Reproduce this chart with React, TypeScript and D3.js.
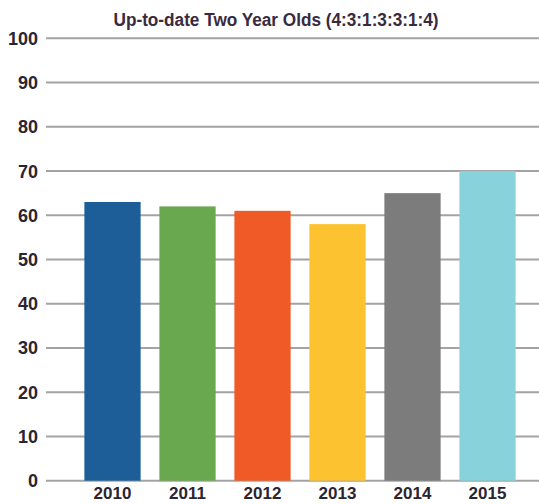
import { useEffect, useRef } from 'react';
import * as d3 from 'd3';

const years = ['2010', '2011', '2012', '2013', '2014', '2015'];
const values = [63, 62, 61, 58, 65, 70];
const colors = ['#1d5e99', '#69a84e', '#f05a27', '#fcc22f', '#7b7c7b', '#88d2dc'];
const yTicks = [0, 10, 20, 30, 40, 50, 60, 70, 80, 90, 100];
const title = 'Up-to-date Two Year Olds (4:3:1:3:3:1:4)';

export default function App() {
  const svgRef = useRef<SVGSVGElement>(null);

  useEffect(() => {
    const width = 539;
    const font = '"Liberation Sans", Arial, sans-serif';

    const svg = d3.select(svgRef.current);
    svg.selectAll('*').remove();

    const x = d3.scaleBand<string>()
      .domain(years)
      .range([75, 525])
      .paddingInner(0.25)
      .paddingOuter(0.125);

    const y = d3.scaleLinear()
      .domain([0, 100])
      .range([480.7, 38.3]);

    // gridlines
    svg.append('g')
      .selectAll('line')
      .data(yTicks)
      .join('line')
      .attr('x1', 46)
      .attr('x2', width)
      .attr('y1', d => y(d))
      .attr('y2', d => y(d))
      .attr('stroke', '#a3a3a3')
      .attr('stroke-width', 2);

    // y labels
    svg.append('g')
      .selectAll('text')
      .data(yTicks)
      .join('text')
      .attr('x', 38)
      .attr('y', d => y(d))
      .attr('dy', '0.36em')
      .attr('text-anchor', 'end')
      .attr('font-family', font)
      .attr('font-size', 18)
      .attr('font-weight', 'bold')
      .attr('fill', '#2a2530')
      .text(d => d);

    // bars
    svg.append('g')
      .selectAll('rect')
      .data(values)
      .join('rect')
      .attr('x', (_, i) => x(years[i])!)
      .attr('width', x.bandwidth())
      .attr('y', d => y(d))
      .attr('height', d => y(0) - y(d))
      .attr('fill', (_, i) => colors[i]);

    // x labels
    svg.append('g')
      .selectAll('text')
      .data(years)
      .join('text')
      .attr('x', d => x(d)! + x.bandwidth() / 2)
      .attr('y', 499)
      .attr('text-anchor', 'middle')
      .attr('font-family', font)
      .attr('font-size', 17)
      .attr('font-weight', 'bold')
      .attr('fill', '#2a2530')
      .text(d => d);

    svg.append('text')
      .attr('x', 276)
      .attr('y', 26)
      .attr('text-anchor', 'middle')
      .attr('font-family', font)
      .attr('font-size', 18)
      .attr('font-weight', 'bold')
      .attr('textLength', 325)
      .attr('lengthAdjust', 'spacingAndGlyphs')
      .attr('fill', '#3a2a40')
      .text(title);
  }, []);

  return (
    <svg
      ref={svgRef}
      width={539}
      height={504}
      style={{ position: 'absolute', left: 0, top: 0, background: '#fff' }}
    />
  );
}
